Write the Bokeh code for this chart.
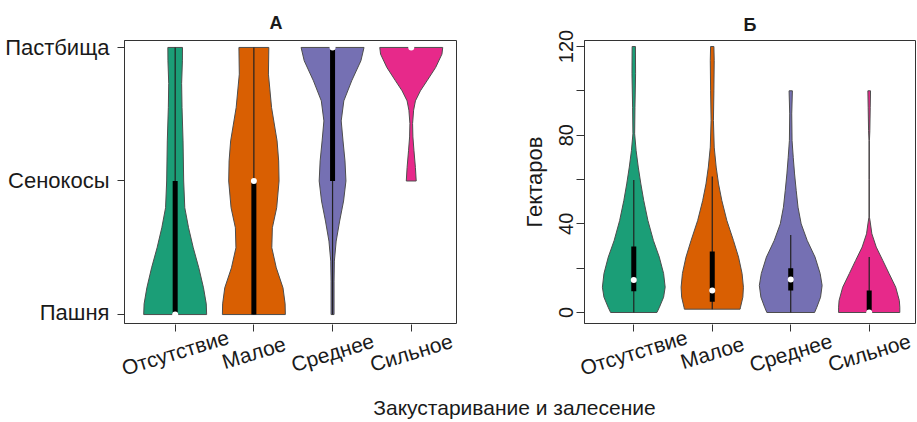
import math
from bokeh.plotting import figure
from bokeh.layouts import row, column
from bokeh.models import Range1d, FixedTicker
from bokeh.embed import file_html
from bokeh.resources import INLINE
from bokeh.core.properties import value

FONT = "Liberation Sans"
TXT = "#1a1a1a"
EDGE = "#333333"

categories = ["Отсутствие", "Малое", "Среднее", "Сильное"]
positions = [1, 2, 3, 4]
colors = ["#1B9E77", "#D95F02", "#7570B3", "#E7298A"]
landuse_labels = ["Пашня", "Сенокосы", "Пастбища"]
landuse_codes = [1, 2, 3]
xlabel = "Закустаривание и залесение"

# ---- Panel A: land use (1 = Пашня, 2 = Сенокосы, 3 = Пастбища), violin half-widths
a_otsut_y = [1.0, 1.08, 1.2, 1.35, 1.5, 1.65, 1.8, 2.0, 2.3, 2.55, 2.73, 2.9, 3.0]
a_otsut_w = [0.40, 0.395, 0.36, 0.30, 0.23, 0.17, 0.122, 0.108, 0.10, 0.087, 0.082, 0.092, 0.093]
a_maloe_y = [1.0, 1.08, 1.2, 1.35, 1.5, 1.65, 1.8, 2.0, 2.15, 2.3, 2.55, 2.8, 3.0]
a_maloe_w = [0.40, 0.397, 0.37, 0.285, 0.228, 0.235, 0.29, 0.32, 0.315, 0.295, 0.225, 0.185, 0.19]
a_sredn_y = [1.0, 1.25, 1.4, 1.55, 1.7, 1.85, 2.0, 2.15, 2.3, 2.45, 2.6, 2.75, 2.9, 3.0]
a_sredn_w = [0.019, 0.019, 0.023, 0.046, 0.09, 0.14, 0.17, 0.158, 0.133, 0.11, 0.143, 0.243, 0.36, 0.40]
a_silno_y = [2.0, 2.1, 2.23, 2.33, 2.43, 2.53, 2.6, 2.675, 2.75, 2.85, 2.95, 3.0]
a_silno_w = [0.063, 0.053, 0.034, 0.021, 0.017, 0.03, 0.053, 0.116, 0.2, 0.31, 0.39, 0.40]

# boxplot stats for A: low whisker, Q1, median, Q3, high whisker
a_lo = [1, 1, 1, 3]
a_q1 = [1, 1, 2, 3]
a_med = [1, 2, 3, 3]
a_q3 = [2, 2, 3, 3]
a_hi = [3, 3, 3, 3]

# ---- Panel B: hectares
b_otsut_y = [0, 2.4, 6.9, 11.4, 17.6, 25, 32.5, 41.5, 50.5, 58, 65.6, 73, 80.6, 92.6, 107.7, 120]
b_otsut_w = [0.295, 0.327, 0.38, 0.40, 0.38, 0.325, 0.25, 0.18, 0.127, 0.09, 0.057, 0.03, 0.011, 0.015, 0.023, 0.021]
b_maloe_y = [1.5, 2.4, 6.9, 11.4, 17.6, 25, 32.5, 41.5, 50.5, 58, 65.6, 74.6, 86.6, 100, 113.7, 120]
b_maloe_w = [0.355, 0.36, 0.39, 0.397, 0.38, 0.335, 0.27, 0.186, 0.122, 0.08, 0.05, 0.025, 0.015, 0.021, 0.025, 0.021]
b_sredn_y = [0, 2.4, 6.9, 12.2, 17.6, 25, 32.5, 40, 47.5, 55, 62.5, 70, 77.6, 89.6, 100]
b_sredn_w = [0.304, 0.333, 0.38, 0.40, 0.375, 0.31, 0.21, 0.133, 0.093, 0.07, 0.049, 0.032, 0.017, 0.013, 0.021]
b_silno_y = [0, 2.4, 5.4, 11.4, 17.6, 23.5, 29.5, 35.5, 40.8, 43, 60, 77.6, 82, 92.6, 100]
b_silno_w = [0.39, 0.39, 0.384, 0.338, 0.253, 0.173, 0.09, 0.034, 0.013, 0.003, 0.003, 0.003, 0.008, 0.013, 0.017]

b_lo = [0, 1.5, 0, 0]
b_q1 = [9.6, 4.8, 9.9, 0]
b_med = [14.7, 9.9, 14.9, 0]
b_q3 = [29.8, 27.5, 20, 9.9]
b_hi = [59.8, 61.4, 35, 25]
b_ticks = [0, 20, 40, 60, 80, 100, 120]
b_tick_labels = ["0", "", "40", "", "80", "", "120"]


def outline(center, ys, ws):
    xs = [center - w for w in ws] + [center + w for w in reversed(ws)]
    yy = list(ys) + list(reversed(ys))
    return xs, yy


def make_fig(frame_w, border_left, border_right, xr, yr, title, title_standoff):
    p = figure(frame_width=frame_w, frame_height=283, x_range=Range1d(*xr), y_range=Range1d(*yr),
               output_backend="svg", toolbar_location=None, tools="",
               min_border_left=border_left, min_border_right=border_right,
               min_border_top=40, min_border_bottom=1, title=title)
    p.title.align = "center"
    p.title.text_font = FONT
    p.title.text_font_size = "18px"
    p.title.text_font_style = "bold"
    p.title.text_color = TXT
    p.title.standoff = title_standoff
    p.outline_line_color = EDGE
    p.outline_line_width = 1
    p.xgrid.visible = False
    p.ygrid.visible = False
    p.xaxis.visible = False
    ax = p.yaxis[0]
    ax.axis_line_color = EDGE
    ax.major_tick_line_color = EDGE
    ax.major_tick_in = 0
    ax.major_tick_out = 7
    ax.minor_tick_line_color = None
    ax.major_label_text_font = FONT
    ax.major_label_text_font_size = "22px"
    ax.major_label_text_color = TXT
    return p


def label_strip(frame_w, border_left, border_right, xr):
    # strip under a panel: carries the category ticks and the tilted category labels;
    # its x range is the panel's range widened so that it maps onto the same pixels
    ppu = frame_w / (xr[1] - xr[0])
    wide = Range1d(xr[0] - border_left / ppu, xr[1] + border_right / ppu)
    s = figure(frame_width=frame_w + border_left + border_right, frame_height=58, x_range=wide,
               y_range=Range1d(0, 58), output_backend="svg", toolbar_location=None, tools="",
               min_border=0, outline_line_color=None, x_axis_location="above")
    s.yaxis.visible = False
    s.grid.visible = False
    ax = s.xaxis[0]
    ax.ticker = FixedTicker(ticks=positions)
    ax.major_label_overrides = {pos: "" for pos in positions}
    ax.major_label_text_font_size = "1px"
    ax.major_label_standoff = 0
    ax.axis_line_color = None
    ax.major_tick_line_color = EDGE
    ax.major_tick_in = 7
    ax.major_tick_out = 0
    ax.minor_tick_line_color = None
    s.text(x=positions, y=[30] * len(positions), text=categories, angle=math.radians(17),
           text_font=value(FONT), text_font_size="21px", text_color=TXT,
           text_align="center", text_baseline="middle")
    return s


def draw(p, dens, lo, q1, med, q3, hi):
    xs_all, ys_all = [], []
    for i, (ys, ws) in enumerate(dens):
        xs, yy = outline(positions[i], ys, ws)
        xs_all.append(xs)
        ys_all.append(yy)
    p.patches(xs=xs_all, ys=ys_all, fill_color=colors, line_color="#4d4d4d", line_width=1)
    p.segment(x0=positions, y0=lo, x1=positions, y1=hi, line_color="#222222", line_width=1.2)
    p.segment(x0=positions, y0=q1, x1=positions, y1=q3, line_color="black", line_width=5,
              line_cap="butt")
    p.scatter(x=positions, y=med, size=6, fill_color="white", line_color=None)


xA = (0.356, 4.575)
xB = (0.372, 4.59)

pA = make_fig(332, 124, 4, xA, (0.933, 3.052), "А", 16)
pA.title.align = "left"
pA.title.offset = 145
draw(pA, [(a_otsut_y, a_otsut_w), (a_maloe_y, a_maloe_w), (a_sredn_y, a_sredn_w), (a_silno_y, a_silno_w)],
     a_lo, a_q1, a_med, a_q3, a_hi)
pA.yaxis.ticker = FixedTicker(ticks=landuse_codes)
pA.yaxis.major_label_overrides = {c: l for c, l in zip(landuse_codes, landuse_labels)}
pA.yaxis.major_label_standoff = 8

pB = make_fig(331, 124, 2, xB, (-4.96, 122.7), "Б", 12)
draw(pB, [(b_otsut_y, b_otsut_w), (b_maloe_y, b_maloe_w), (b_sredn_y, b_sredn_w), (b_silno_y, b_silno_w)],
     b_lo, b_q1, b_med, b_q3, b_hi)
pB.yaxis.ticker = FixedTicker(ticks=b_ticks)
pB.yaxis.major_label_overrides = {t: l for t, l in zip(b_ticks, b_tick_labels)}
pB.yaxis.major_label_orientation = "vertical"
pB.yaxis.major_label_text_font_size = "20px"
pB.yaxis.major_label_standoff = 3
pB.yaxis.major_tick_out = 8
pB.yaxis.axis_label = "Гектаров"
pB.yaxis.axis_label_text_font = FONT
pB.yaxis.axis_label_text_font_size = "22px"
pB.yaxis.axis_label_text_font_style = "normal"
pB.yaxis.axis_label_text_color = TXT
pB.yaxis.axis_label_standoff = 10

sA = label_strip(332, 124, 4, xA)
sB = label_strip(331, 124, 2, xB)

pL = figure(width=917, height=38, x_range=Range1d(0, 917), y_range=Range1d(0, 38),
            output_backend="svg", toolbar_location=None, tools="",
            min_border=0, outline_line_color=None)
pL.axis.visible = False
pL.grid.visible = False
pL.text(x=[514], y=[13], text=[xlabel], text_font=value(FONT), text_font_size="21px",
        text_color=TXT, text_align="center", text_baseline="middle")

layout = column(row(pA, pB), row(sA, sB), pL)
open("out.html", "w").write(file_html(layout, INLINE))
